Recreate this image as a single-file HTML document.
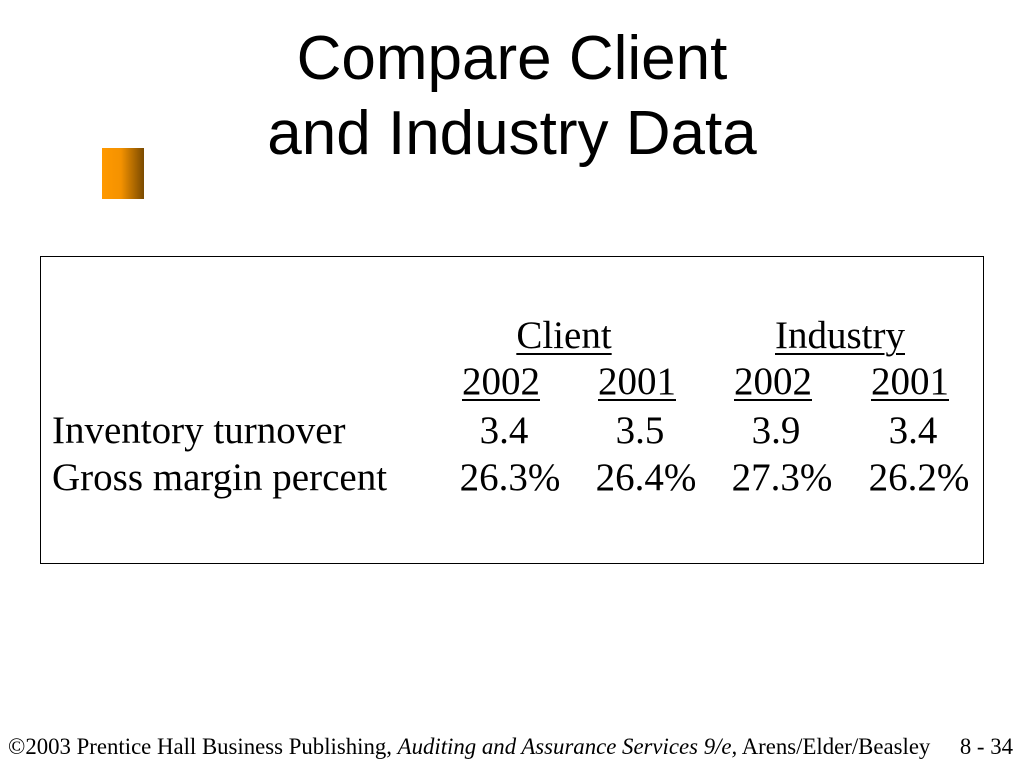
<!DOCTYPE html>
<html><head><meta charset="utf-8"><style>
body{margin:0;width:1024px;height:768px;background:#fff;position:relative;overflow:hidden;font-family:"Liberation Serif",serif;color:#000}
.t{position:absolute;white-space:nowrap}
.title{font-family:"Liberation Sans",sans-serif;font-size:62px;left:0;width:1024px;text-align:center}
.c{position:absolute;font-size:39px;white-space:nowrap;transform:translateX(-50%)}
.l{position:absolute;font-size:39px;white-space:nowrap;left:52px}
u{text-decoration:underline;text-decoration-thickness:2px;text-underline-offset:5px}
</style></head><body>
<div class="t title" style="top:23px">Compare Client</div>
<div class="t title" style="top:98px">and Industry Data</div>
<div style="position:absolute;left:102px;top:148px;width:42px;height:51px;background:linear-gradient(to right,#ff9900 0%,#f49200 45%,#7a4a00 100%)"></div>
<div style="position:absolute;left:40px;top:256px;width:942px;height:306px;border:1px solid #000"></div>
<div class="c" style="left:564px;top:313px"><u>Client</u></div>
<div class="c" style="left:840px;top:313px"><u>Industry</u></div>
<div class="c" style="left:501px;top:359px"><u>2002</u></div>
<div class="c" style="left:637px;top:359px"><u>2001</u></div>
<div class="c" style="left:773px;top:359px"><u>2002</u></div>
<div class="c" style="left:910px;top:359px"><u>2001</u></div>
<div class="l" style="top:408px">Inventory turnover</div>
<div class="c" style="left:504px;top:408px">3.4</div>
<div class="c" style="left:640px;top:408px">3.5</div>
<div class="c" style="left:776px;top:408px">3.9</div>
<div class="c" style="left:913px;top:408px">3.4</div>
<div class="l" style="top:455px">Gross margin percent</div>
<div class="c" style="left:510px;top:455px">26.3%</div>
<div class="c" style="left:646px;top:455px">26.4%</div>
<div class="c" style="left:782px;top:455px">27.3%</div>
<div class="c" style="left:919px;top:455px">26.2%</div>
<div class="t" style="left:8px;top:734px;font-size:22.8px">©2003 Prentice Hall Business Publishing, <i>Auditing and Assurance Services 9/e,</i> Arens/Elder/Beasley</div>
<div class="t" style="right:11px;top:734px;font-size:22.8px">8 - 34</div>
</body></html>
